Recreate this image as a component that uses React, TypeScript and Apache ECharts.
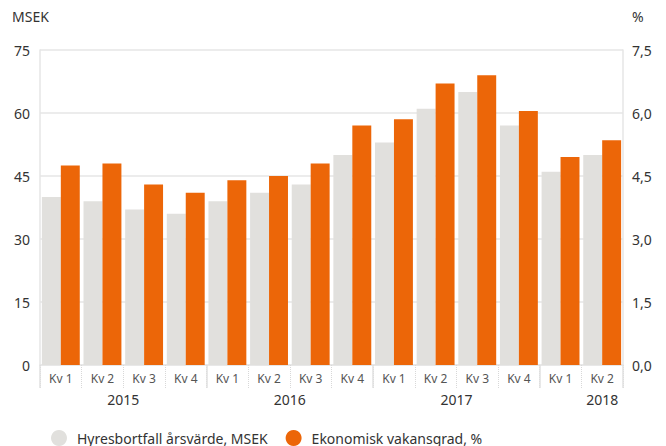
import React, { useEffect, useRef } from "react";
import * as echarts from "echarts";

const quarters = ["Kv 1", "Kv 2", "Kv 3", "Kv 4", "Kv 1", "Kv 2", "Kv 3", "Kv 4", "Kv 1", "Kv 2", "Kv 3", "Kv 4", "Kv 1", "Kv 2"];
const years = ["2015", "2016", "2017", "2018"];
const yearLabelPos = [2, 6, 10, 13.5];
const yearBoundaries = [0, 4, 8, 12, 14];
const hyresbortfall = [40, 39, 37, 36, 39, 41, 43, 50, 53, 61, 65, 57, 46, 50];
const vakansgrad = [4.75, 4.8, 4.3, 4.1, 4.4, 4.5, 4.8, 5.7, 5.85, 6.7, 6.9, 6.05, 4.95, 5.35];
const seriesNames = ["Hyresbortfall årsvärde, MSEK", "Ekonomisk vakansgrad, %"];

const FONT = "'Noto Sans', sans-serif";
const GRID = "#e6e6e6";

export default function App() {
  const ref = useRef<HTMLDivElement>(null);
  useEffect(() => {
    const chart = echarts.init(ref.current!, null, { renderer: "svg" });
    chart.setOption({
      animation: false,
      textStyle: { fontFamily: FONT },
      grid: { left: 40, right: 43, top: 50, bottom: 81, containLabel: false },
      legend: {
        left: 46,
        top: 425,
        icon: "circle",
        itemWidth: 16,
        itemHeight: 16,
        itemGap: 18,
        textStyle: { fontSize: 14, color: "#333", fontFamily: FONT, padding: [0, 0, 0, 5] },
        data: seriesNames,
      },
      graphic: [
        { type: "text", left: 12, top: 9, style: { text: "MSEK", fontSize: 14, fill: "#333", fontFamily: FONT } },
        { type: "text", left: 632, top: 9, style: { text: "%", fontSize: 14, fill: "#333", fontFamily: FONT } },
      ],
      xAxis: [
        {
          type: "category",
          data: quarters,
          position: "bottom",
          axisLine: { show: true, lineStyle: { color: GRID, width: 1.5 } },
          axisTick: { show: true, interval: 0, length: 23, lineStyle: { color: "#d8d8d8", type: "dotted", width: 1 } },
          axisLabel: { interval: 0, margin: 7, fontSize: 12, color: "#555", fontFamily: FONT },
          splitLine: { show: false },
        },
        {
          type: "value",
          min: 0,
          max: 14,
          position: "bottom",
          offset: 0,
          axisLine: { show: false },
          axisTick: { show: true, customValues: yearBoundaries, length: 23, lineStyle: { color: "#e0e0e0", width: 1.5 } },
          axisLabel: {
            customValues: yearLabelPos,
            margin: 27,
            fontSize: 14,
            color: "#333",
            fontFamily: FONT,
            formatter: (v: number) => {
              const i = yearLabelPos.indexOf(v);
              return i >= 0 ? years[i] : "";
            },
          },
          splitLine: { show: false },
        },
      ],
      yAxis: [
        {
          type: "value",
          min: 0,
          max: 75,
          interval: 15,
          position: "left",
          axisLine: { show: true, lineStyle: { color: GRID, width: 1.5 } },
          axisTick: { show: false },
          axisLabel: { margin: 10, fontSize: 14, color: "#333", fontFamily: FONT },
          splitLine: { show: true, lineStyle: { color: GRID, width: 1.5 } },
        },
        {
          type: "value",
          min: 0,
          max: 7.5,
          interval: 1.5,
          position: "right",
          axisLine: { show: true, lineStyle: { color: GRID, width: 1.5 } },
          axisTick: { show: false },
          axisLabel: {
            margin: 9,
            fontSize: 14,
            color: "#333",
            fontFamily: FONT,
            formatter: (v: number) => v.toFixed(1).replace(".", ","),
          },
          splitLine: { show: false },
        },
      ],
      series: [
        {
          name: seriesNames[0],
          type: "bar",
          xAxisIndex: 0,
          yAxisIndex: 0,
          data: hyresbortfall,
          barGap: "0%",
          barCategoryGap: "9%",
          itemStyle: { color: "#e1e0dd" },
        },
        {
          name: seriesNames[1],
          type: "bar",
          xAxisIndex: 0,
          yAxisIndex: 1,
          data: vakansgrad,
          barGap: "0%",
          barCategoryGap: "9%",
          itemStyle: { color: "#ec6608" },
        },
      ],
    });
    return () => chart.dispose();
  }, []);
  return <div ref={ref} style={{ width: 666, height: 446, position: "absolute", left: 0, top: 0 }} />;
}
